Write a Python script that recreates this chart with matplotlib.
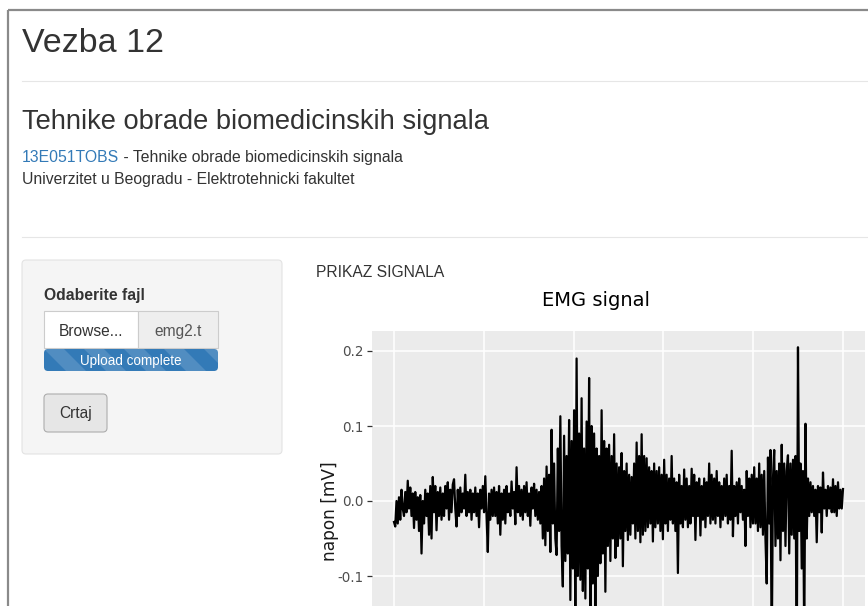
import numpy as np
import matplotlib
matplotlib.use("Agg")
import matplotlib.pyplot as plt
from matplotlib.patches import FancyBboxPatch, Rectangle, Polygon

# ---------------- data (EMG signal, mV) ----------------
napon_mV = [
    -0.028, -0.034, 0.0, -0.03, 0.005, -0.025, 0.015, -0.01,
    -0.02, 0.012, -0.015, 0.027, -0.01, 0.018, -0.02, 0.01,
    -0.036, 0.012, -0.025, 0.005, -0.04, 0.008, -0.07, 0.0,
    -0.03, 0.015, -0.02, 0.01, -0.045, 0.02, -0.05, 0.032,
    -0.015, 0.02, -0.039, 0.012, -0.02, 0.018, -0.025, 0.01,
    -0.02, 0.02, -0.01, 0.025, -0.025, 0.015, -0.015, 0.022,
    0.029, -0.01, -0.034, 0.015, -0.02, 0.018, -0.015, 0.01,
    -0.01, 0.035, -0.02, 0.012, -0.015, 0.015, -0.025, 0.01,
    -0.015, 0.018, -0.02, 0.01, -0.035, 0.015, -0.01, 0.02,
    -0.015, 0.033, -0.02, -0.068, 0.01, -0.025, 0.015, -0.02,
    0.018, -0.02, 0.012, -0.03, 0.02, -0.045, 0.01, -0.025,
    0.015, -0.03, 0.02, -0.015, 0.01, -0.02, 0.026, -0.01,
    0.012, -0.031, 0.045, -0.015, 0.02, -0.02, 0.015, -0.025,
    0.02, -0.015, 0.025, -0.02, 0.01, -0.033, 0.018, -0.01,
    0.023, -0.02, 0.015, -0.025, 0.012, -0.03, 0.02, -0.05,
    0.03, -0.059, 0.046, -0.04, 0.035, -0.068, 0.095, -0.03,
    0.05, -0.05, -0.072, 0.07, -0.04, 0.113, -0.06, -0.114,
    0.087, -0.08, 0.06, -0.07, 0.108, -0.132, 0.08, -0.09,
    0.121, -0.17, 0.19, -0.1, 0.09, -0.105, 0.137, -0.12,
    0.07, -0.13, 0.106, -0.09, 0.164, -0.18, 0.1, -0.11,
    0.09, -0.16, 0.07, -0.1, 0.06, -0.083, 0.121, -0.07,
    0.08, -0.121, 0.07, -0.06, 0.075, -0.08, 0.06, -0.05,
    0.089, -0.076, 0.05, -0.06, 0.045, -0.05, 0.064, -0.087,
    0.04, -0.04, 0.05, -0.052, 0.035, -0.045, 0.032, -0.03,
    0.05, -0.05, 0.078, -0.04, 0.06, -0.055, 0.089, -0.045,
    0.06, -0.04, 0.057, -0.035, 0.045, -0.03, 0.04, -0.054,
    0.05, -0.035, 0.04, -0.03, 0.045, -0.04, 0.035, -0.051,
    0.055, -0.03, 0.035, -0.04, 0.03, -0.025, 0.06, -0.03,
    0.03, -0.04, 0.025, -0.096, 0.035, -0.03, 0.02, -0.035,
    0.042, -0.025, 0.03, -0.035, 0.02, -0.03, 0.043, -0.02,
    0.035, -0.052, 0.025, -0.02, 0.03, -0.046, 0.02, -0.025,
    0.03, -0.035, 0.025, -0.02, 0.05, -0.03, 0.035, -0.025,
    0.03, -0.03, 0.04, -0.02, 0.025, -0.035, 0.02, -0.025,
    0.03, -0.02, 0.035, -0.03, 0.02, -0.025, 0.067, -0.047,
    0.02, -0.02, 0.025, -0.03, 0.03, -0.015, 0.02, -0.025,
    0.015, -0.06, 0.04, -0.02, 0.03, -0.035, 0.035, -0.03,
    0.045, -0.03, 0.03, -0.04, 0.05, -0.035, 0.035, -0.045,
    0.04, -0.05, -0.11, 0.058, -0.03, 0.068, -0.21, 0.03,
    0.068, -0.06, 0.04, -0.05, 0.05, -0.079, 0.075, -0.04,
    0.05, -0.06, 0.04, 0.061, -0.07, 0.05, -0.045, 0.055,
    -0.05, 0.06, -0.233, 0.205, -0.04, 0.05, -0.09, 0.04,
    -0.19, 0.103, -0.05, 0.03, -0.02, 0.025, -0.015, 0.02,
    -0.02, 0.015, -0.055, 0.02, -0.015, 0.018, -0.042, 0.038,
    -0.01, 0.015, -0.02, 0.02, -0.01, 0.018, -0.015, 0.029,
    -0.015, 0.02, -0.02, 0.025, -0.01, 0.015, -0.01, 0.016,
]
y_ticks = [-0.1, 0.0, 0.1, 0.2]
y_ticklabels = ["-0.1", "0.0", "0.1", "0.2"]
plot_title = "EMG signal"
y_label = "napon [mV]"

W, H = 868, 606
PX = 0.72  # px -> pt at dpi 100
UI = ["Liberation Sans", "DejaVu Sans"]
PLOTF = ["DejaVu Sans"]

fig = plt.figure(figsize=(W / 100, H / 100), dpi=100)
fig.patch.set_facecolor("white")

# overlay in pixel coordinates (y down)
ov = fig.add_axes([0, 0, 1, 1], zorder=0)
ov.set_xlim(0, W)
ov.set_ylim(H, 0)
ov.axis("off")

# screenshot frame
ov.plot([8, W], [10, 10], color="#8a8a8a", lw=1.6, solid_capstyle="butt")
ov.plot([8, 8], [10, H], color="#8a8a8a", lw=1.6, solid_capstyle="butt")

# headers
ov.text(22, 52, "Vezba 12", fontsize=34 * PX, color="#333333", family=UI, va="baseline")
ov.plot([22, W], [81, 81], color="#e6e6e6", lw=0.8)
ov.text(22, 129, "Tehnike obrade biomedicinskih signala", fontsize=27.2 * PX,
        color="#333333", family=UI, va="baseline")
t1 = ov.text(22, 162, "13E051TOBS", fontsize=15.8 * PX, color="#337ab7", family=UI, va="baseline")
fig.canvas.draw()
bb = t1.get_window_extent()
x_end = ov.transData.inverted().transform((bb.x1, bb.y0))[0]
ov.text(x_end, 162, " - Tehnike obrade biomedicinskih signala", fontsize=15.8 * PX,
        color="#333333", family=UI, va="baseline")
ov.text(22, 184, "Univerzitet u Beogradu - Elektrotehnicki fakultet", fontsize=15.8 * PX,
        color="#333333", family=UI, va="baseline")
ov.plot([22, W], [237, 237], color="#e6e6e6", lw=0.8)

# sidebar well
ov.add_patch(FancyBboxPatch((22, 260), 260, 194, boxstyle="round,pad=0,rounding_size=4",
                            fc="#f5f5f5", ec="#e3e3e3", lw=0.8))
ov.text(44, 300, "Odaberite fajl", fontsize=15.7 * PX, fontweight="bold",
        color="#333333", family=UI, va="baseline")
ov.add_patch(Rectangle((44, 311), 94, 37, fc="white", ec="#cccccc", lw=0.8))
ov.text(91, 336, "Browse...", fontsize=15.5 * PX, color="#333333", family=UI,
        va="baseline", ha="center")
ov.add_patch(Rectangle((138, 311), 80, 37, fc="#eeeeee", ec="#cccccc", lw=0.8))
ov.text(154, 336, "emg2.t", fontsize=15.5 * PX, color="#555555", family=UI, va="baseline")

bar = FancyBboxPatch((44, 349), 174, 22, boxstyle="round,pad=0,rounding_size=4",
                     fc="#337ab7", ec="none")
ov.add_patch(bar)
for x0 in range(4, 240, 40):
    st = Polygon([(x0, 349), (x0 + 20, 349), (x0 + 42, 371), (x0 + 22, 371)],
                 closed=True, fc=(1, 1, 1, 0.15), ec="none")
    ov.add_patch(st)
    st.set_clip_path(bar)
ov.text(131, 365.5, "Upload complete", fontsize=13.5 * PX, color="white", family=UI,
        va="baseline", ha="center")

ov.add_patch(FancyBboxPatch((44, 394), 63, 38, boxstyle="round,pad=0,rounding_size=4",
                            fc="#e6e6e6", ec="#adadad", lw=0.8))
ov.text(75.5, 418, "Crtaj", fontsize=15.5 * PX, color="#333333", family=UI,
        va="baseline", ha="center")

ov.text(316, 277, "PRIKAZ SIGNALA", fontsize=15.6 * PX, color="#333333", family=UI,
        va="baseline")

# ---------------- plot ----------------
vals = np.array(napon_mV)
x = np.arange(len(vals))
xr = x.max() - x.min()
xlim = (x.min() - 0.05 * xr, x.max() + 0.05 * xr)
yr = vals.max() - vals.min()
ylim = (vals.min() - 0.05 * yr, vals.max() + 0.05 * yr)

# layout: data x spans px 394..843, y: 0 at px 501, 750 px per mV
x_left_px, x_right_px = 394, 843
ppx = (x_right_px - x_left_px) / xr
ax_l = x_left_px - (x.min() - xlim[0]) * ppx
ax_r = x_right_px + (xlim[1] - x.max()) * ppx
ax_t = 501 - ylim[1] * 750
ax_b = 501 - ylim[0] * 750

ax = fig.add_axes([ax_l / W, (H - ax_b) / H, (ax_r - ax_l) / W, (ax_b - ax_t) / H], zorder=2)
ax.set_facecolor("#ebebeb")
ax.set_xlim(*xlim)
ax.set_ylim(*ylim)
ax.set_xticks(np.linspace(x.min(), x.max(), 6))
ax.set_xticklabels([])
ax.set_yticks(y_ticks)
ax.set_yticklabels(y_ticklabels, family=PLOTF, fontsize=13.5 * PX, color="#4d4d4d")
ax.grid(True, color="white", lw=1.1)
ax.set_axisbelow(True)
for s in ax.spines.values():
    s.set_visible(False)
ax.tick_params(axis="both", length=3.5, width=0.9, color="#333333", pad=2)
ax.plot(x, vals, color="black", lw=1.6, solid_joinstyle="round")
ax.set_ylabel(y_label, family=PLOTF, fontsize=17 * PX, color="#1a1a1a", va="center")
ax.yaxis.set_label_coords((330 - ax_l) / (ax_r - ax_l), (ax_b - 511) / (ax_b - ax_t))
fig.text(596 / W, 1 - 300 / H, plot_title, family=PLOTF, fontsize=19.5 * PX,
         color="black", ha="center", va="center")

fig.savefig("out.png", dpi=100)
